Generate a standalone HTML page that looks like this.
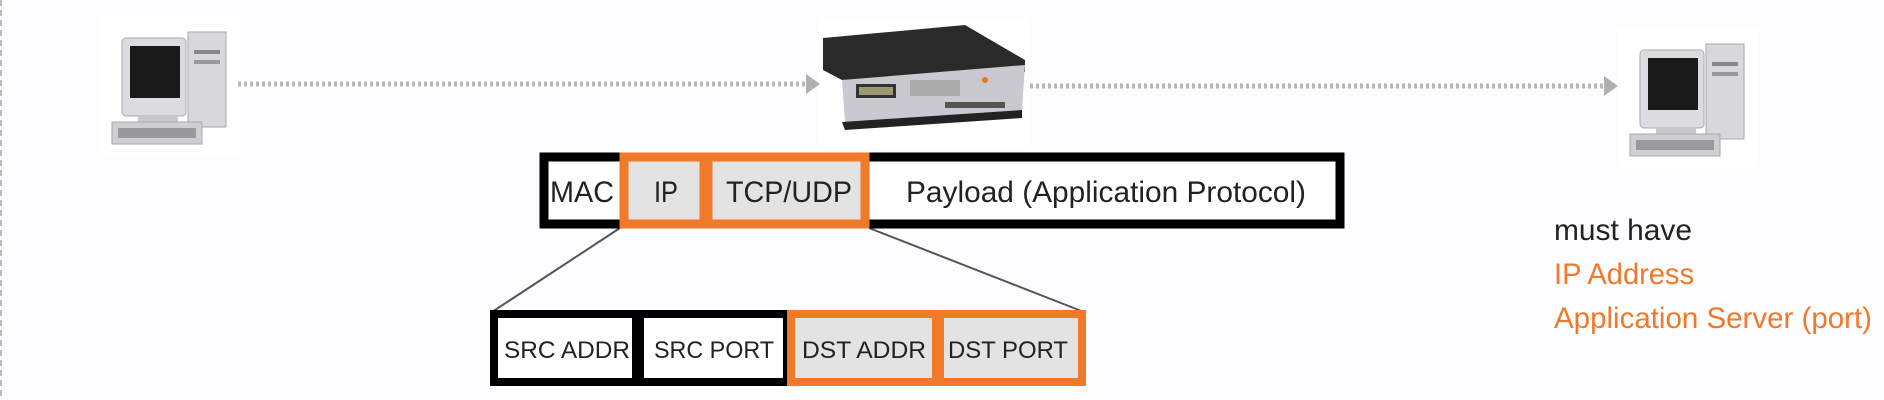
<!DOCTYPE html>
<html><head><style>
html,body{margin:0;padding:0;background:#fdfcfe;}
svg{display:block}
text{font-family:"Liberation Sans",sans-serif;}
</style></head><body>
<svg width="1884" height="400" viewBox="0 0 1884 400" xmlns="http://www.w3.org/2000/svg">
<rect width="1884" height="400" fill="#fdfcfe"/>
<line x1="1" y1="0" x2="1" y2="400" stroke="#bbb" stroke-width="2" stroke-dasharray="6,4"/>

<!-- left computer -->
<g>
<rect x="100" y="15" width="140" height="140" fill="#ffffff"/>
<rect x="188" y="32" width="38" height="95" fill="#d8d8dc" stroke="#aaa"/>
<rect x="194" y="50" width="26" height="4" fill="#888"/>
<rect x="194" y="60" width="26" height="4" fill="#999"/>
<rect x="122" y="38" width="64" height="78" rx="4" fill="#dcdce0" stroke="#aaa"/>
<rect x="130" y="46" width="50" height="52" fill="#1a1a1a"/>
<rect x="138" y="116" width="40" height="6" fill="#c8c8cc"/>
<rect x="112" y="122" width="90" height="22" fill="#cfcfd3" stroke="#aaa"/>
<rect x="118" y="128" width="78" height="10" fill="#999"/>
</g>
<!-- right computer -->
<g transform="translate(1518,12)">
<rect x="100" y="15" width="140" height="140" fill="#ffffff"/>
<rect x="188" y="32" width="38" height="95" fill="#d8d8dc" stroke="#aaa"/>
<rect x="194" y="50" width="26" height="4" fill="#888"/>
<rect x="194" y="60" width="26" height="4" fill="#999"/>
<rect x="122" y="38" width="64" height="78" rx="4" fill="#dcdce0" stroke="#aaa"/>
<rect x="130" y="46" width="50" height="52" fill="#1a1a1a"/>
<rect x="138" y="116" width="40" height="6" fill="#c8c8cc"/>
<rect x="112" y="122" width="90" height="22" fill="#cfcfd3" stroke="#aaa"/>
<rect x="118" y="128" width="78" height="10" fill="#999"/>
</g>

<!-- server -->
<rect x="818" y="18" width="212" height="128" fill="#ffffff"/>
<polygon points="823,38 965,25 1025,60 1025,72 842,80 823,70" fill="#2a2a2a"/>
<polygon points="842,80 1025,65 1022,110 845,122" fill="#c9c9cf"/>
<polygon points="842,122 1022,110 1022,118 845,130" fill="#222"/>
<rect x="856" y="84" width="40" height="14" fill="#333"/>
<rect x="859" y="87" width="34" height="8" fill="#9a9a70"/>
<rect x="910" y="80" width="50" height="16" fill="#aaa"/>
<circle cx="985" cy="80" r="3" fill="#e87722"/>
<rect x="945" y="102" width="60" height="6" fill="#555"/>

<!-- dotted arrows -->
<line x1="238" y1="84" x2="808" y2="84" stroke="#b8b8b8" stroke-width="5" stroke-dasharray="3,3"/>
<polygon points="806,74 820,84 806,94" fill="#b0b0b0"/>
<line x1="1030" y1="86" x2="1606" y2="86" stroke="#b8b8b8" stroke-width="5" stroke-dasharray="3,3"/>
<polygon points="1604,76 1618,86 1604,96" fill="#b0b0b0"/>

<!-- connector lines -->
<line x1="620" y1="228" x2="492" y2="312" stroke="#555" stroke-width="2"/>
<line x1="869" y1="228" x2="1084" y2="312" stroke="#555" stroke-width="2"/>

<!-- top packet -->
<rect x="544" y="157" width="796" height="67" fill="#fff" stroke="#000" stroke-width="9"/>
<rect x="624" y="157" width="80" height="67" fill="#e3e3e3" stroke="#f07a2a" stroke-width="9"/>
<rect x="708" y="157" width="157" height="67" fill="#e3e3e3" stroke="#f07a2a" stroke-width="9"/>
<g font-size="30" fill="#222">
<text x="550" y="202" textLength="64" lengthAdjust="spacingAndGlyphs">MAC</text>
<text x="654" y="202" textLength="24" lengthAdjust="spacingAndGlyphs">IP</text>
<text x="726" y="202" textLength="126" lengthAdjust="spacingAndGlyphs">TCP/UDP</text>
<text x="906" y="202" textLength="400" lengthAdjust="spacingAndGlyphs">Payload (Application Protocol)</text>
</g>

<!-- bottom packet -->
<rect x="494" y="314" width="142" height="68" fill="#fff" stroke="#000" stroke-width="8"/>
<rect x="640" y="314" width="147" height="68" fill="#fff" stroke="#000" stroke-width="8"/>
<rect x="791" y="314" width="145" height="68" fill="#e3e3e3" stroke="#f07a2a" stroke-width="8"/>
<rect x="940" y="314" width="142" height="68" fill="#e3e3e3" stroke="#f07a2a" stroke-width="8"/>
<g font-size="24" fill="#222">
<text x="504" y="358" textLength="126" lengthAdjust="spacingAndGlyphs">SRC ADDR</text>
<text x="654" y="358" textLength="120" lengthAdjust="spacingAndGlyphs">SRC PORT</text>
<text x="802" y="358" textLength="124" lengthAdjust="spacingAndGlyphs">DST ADDR</text>
<text x="948" y="358" textLength="120" lengthAdjust="spacingAndGlyphs">DST PORT</text>
</g>

<!-- right text -->
<g font-size="30">
<text x="1554" y="240" fill="#222" textLength="138" lengthAdjust="spacingAndGlyphs">must have</text>
<text x="1554" y="284" fill="#f07a2a" textLength="140" lengthAdjust="spacingAndGlyphs">IP Address</text>
<text x="1554" y="328" fill="#f07a2a" textLength="318" lengthAdjust="spacingAndGlyphs">Application Server (port)</text>
</g>
</svg>
</body></html>
